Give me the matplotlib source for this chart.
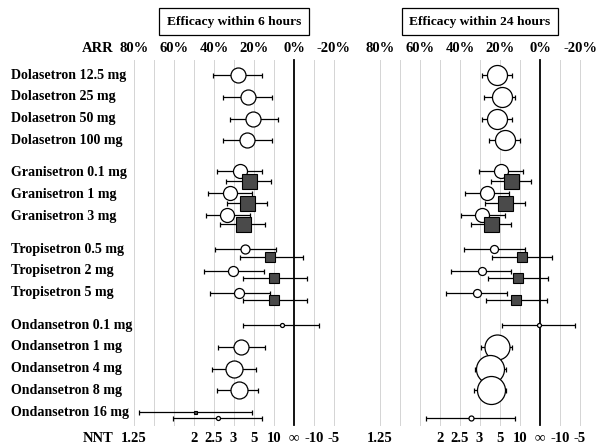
import numpy as np
import matplotlib
matplotlib.use("Agg")
import matplotlib.pyplot as plt
from matplotlib import transforms

plt.rcParams["font.family"] = ["Liberation Serif", "DejaVu Serif"]
plt.rcParams["font.weight"] = "bold"

# ---------------- data ----------------
groups = [
    ["Dolasetron 12.5 mg", "Dolasetron 25 mg", "Dolasetron 50 mg", "Dolasetron 100 mg"],
    ["Granisetron 0.1 mg", "Granisetron 1 mg", "Granisetron 3 mg"],
    ["Tropisetron 0.5 mg", "Tropisetron 2 mg", "Tropisetron 5 mg"],
    ["Ondansetron 0.1 mg", "Ondansetron 1 mg", "Ondansetron 4 mg", "Ondansetron 8 mg", "Ondansetron 16 mg"],
]
panel_titles = ["Efficacy within 6 hours", "Efficacy within 24 hours"]

nan = np.nan
# 6 hours - open circles: ARR estimate, CI (upper ARR, lower ARR), weight (marker diameter px)
c6_est = [28, 23, 20.5, 23.5, 27, 32, 33.5, 24.5, 30.5, 27.5, 6, 26.5, 30, 27.5, 38]
c6_lo = [40, 35, 33, 36, 38, 43, 45, 40, 46, 43, 24.5, 38.5, 41, 37, 60]
c6_hi = [15.5, 10.5, 9, 11.5, 15.5, 21, 23, 9.5, 16, 13, -13.5, 15, 19, 16.5, 15.5]
c6_w = [15, 15, 15, 15, 14, 14, 14, 9, 10, 10, 4, 15, 17, 17, 4]
# 6 hours - filled squares
s6_est = [nan, nan, nan, nan, 22.5, 23.5, 25.5, 12, 10, 10, nan, nan, nan, nan, 49.5]
s6_lo = [nan, nan, nan, nan, 33.5, 33.5, 36.5, 28.5, 26.5, 26.5, nan, nan, nan, nan, 78]
s6_hi = [nan, nan, nan, nan, 11, 13.5, 14, -3, -5.5, -5.5, nan, nan, nan, nan, 21.5]
s6_w = [0, 0, 0, 0, 15, 15, 15, 10, 10, 10, 0, 0, 0, 0, 3]

# 24 hours - open circles
c24_est = [21.5, 19, 21.5, 17.5, 19.5, 26.5, 29, 23, 29, 31.5, 0.5, 21.5, 25, 24.5, 34.5]
c24_lo = [29, 25.5, 29, 25, 30.5, 37.5, 40.5, 38.5, 43.5, 46.5, 18.5, 29, 33, 32, 56.5]
c24_hi = [14, 10, 14, 9.5, 8.5, 15.5, 18.5, 8, 13.5, 16, -18, 13.5, 17.5, 16, 12]
c24_w = [20, 20, 20, 20, 14, 14, 14, 8, 8, 8, 4, 25, 28, 28, 5]
# 24 hours - filled squares
s24_est = [nan, nan, nan, nan, 14.5, 17.5, 24.5, 9, 11, 12, nan, nan, nan, nan, nan]
s24_lo = [nan, nan, nan, nan, 24.5, 27.5, 34.5, 24, 26, 27.5, nan, nan, nan, nan, nan]
s24_hi = [nan, nan, nan, nan, 4.5, 7.5, 14.5, -6, -4, -3, nan, nan, nan, nan, nan]
s24_w = [0, 0, 0, 0, 15, 15, 15, 10, 10, 10, 0, 0, 0, 0, 0]

arr_ticks = [80, 60, 40, 20, 0, -20]
arr_labels = ["80%", "60%", "40%", "20%", "0%", "-20%"]
nnt_labels = ["1.25", "2", "2.5", "3", "5", "10", "\u221e", "-10", "-5"]
nnt_pos = [80, 50, 40, 30.5, 20, 10, 0, -10, -20]
grid_vals = [80, 70, 60, 50, 40, 30, 20, 10, -10, -20]

# ---------------- layout ----------------
W, H = 600, 447
fig = plt.figure(figsize=(W / 100, H / 100), dpi=100)

row_px0, row_step = 75.0, 21.75
ylim_top = -row_px0 / row_step
ylim_bot = (H - row_px0) / row_step

labels, ypos = [], []
y = 0.0
for gi, g in enumerate(groups):
    if gi > 0:
        y += 0.5
    for name in g:
        labels.append(name)
        ypos.append(y)
        y += 1
ypos = np.array(ypos)

# offsets within a row when two markers are present
circ_off = np.zeros(len(ypos))
sq_off = np.zeros(len(ypos))
for i, nm in enumerate(labels):
    if nm.startswith("Granisetron"):
        circ_off[i], sq_off[i] = -0.08, 0.37
    elif nm.startswith("Tropisetron"):
        circ_off[i], sq_off[i] = 0.0, 0.35
    elif nm == "Ondansetron 16 mg":
        circ_off[i], sq_off[i] = 0.27, -0.02

def px_to_pt(px):
    return px * 72 / 100.0

axes_specs = [
    (124, c6_est, c6_lo, c6_hi, c6_w, s6_est, s6_lo, s6_hi, s6_w),
    (370, c24_est, c24_lo, c24_hi, c24_w, s24_est, s24_lo, s24_hi, s24_w),
]

fs_lab = 10.1
fs_tick = 10.5
fs_title = 9.7
grid_top = (60 - row_px0) / row_step
grid_bot = (425 - row_px0) / row_step
arr_row = (48 - row_px0) / row_step
nnt_row = (438 - row_px0) / row_step

for k, (lpx, ce, cl, ch, cw, se, sl, sh, sw) in enumerate(axes_specs):
    ax = fig.add_axes([lpx / W, 0, 215 / W, 1])
    ax.set_xlim(85, -22.5)
    ax.set_ylim(ylim_bot, ylim_top)
    ax.axis("off")

    for g in grid_vals:
        ax.plot([g, g], [grid_top, grid_bot], color="#d4d4d4", lw=0.7, zorder=0)
    ax.plot([0, 0], [grid_top, grid_bot], color="black", lw=1.3, zorder=1)

    ce, cl, ch = map(np.array, (ce, cl, ch))
    se, sl, sh = map(np.array, (se, sl, sh))
    for i in range(len(ypos)):
        yc = ypos[i] + circ_off[i]
        if not np.isnan(ce[i]):
            ax.errorbar(ce[i], yc, xerr=[[cl[i] - ce[i]], [ce[i] - ch[i]]],
                        fmt="none", ecolor="black", elinewidth=0.9, capsize=1.8,
                        capthick=0.9, zorder=2)
            ax.plot(ce[i], yc, "o", ms=px_to_pt(cw[i]), mfc="white", mec="black",
                    mew=0.9, zorder=3)
        ys = ypos[i] + sq_off[i]
        if not np.isnan(se[i]):
            ax.errorbar(se[i], ys, xerr=[[sl[i] - se[i]], [se[i] - sh[i]]],
                        fmt="none", ecolor="black", elinewidth=0.9, capsize=1.8,
                        capthick=0.9, zorder=4)
            ax.plot(se[i], ys, "s", ms=px_to_pt(sw[i]), mfc="#4a4a4a", mec="black",
                    mew=0.8, zorder=5)

    for t, lab in zip(arr_ticks, arr_labels):
        ax.text(t, arr_row, lab, ha="center", va="center", fontsize=fs_tick,
                fontweight="bold")
    for t, lab in zip(nnt_pos, nnt_labels):
        ax.text(t, nnt_row, lab, ha="center", va="center", fontsize=fs_tick,
                fontweight="bold")

    ax.text(30, (21.5 - row_px0) / row_step, panel_titles[k], ha="center", va="center",
            fontsize=fs_title, fontweight="bold",
            bbox=dict(boxstyle="square,pad=0.55", fc="white", ec="black", lw=0.9))

    if k == 0:
        ax.text(90.5, arr_row, "ARR", ha="right", va="center", fontsize=fs_tick,
                fontweight="bold")
        ax.text(90.5, nnt_row, "NNT", ha="right", va="center", fontsize=fs_tick,
                fontweight="bold")
        tr = transforms.blended_transform_factory(fig.transFigure, ax.transData)
        for nm, yy in zip(labels, ypos):
            ax.text(11 / W, yy, nm, transform=tr, ha="left", va="center",
                    fontsize=fs_lab, fontweight="bold")

fig.savefig("out.png", dpi=100)
